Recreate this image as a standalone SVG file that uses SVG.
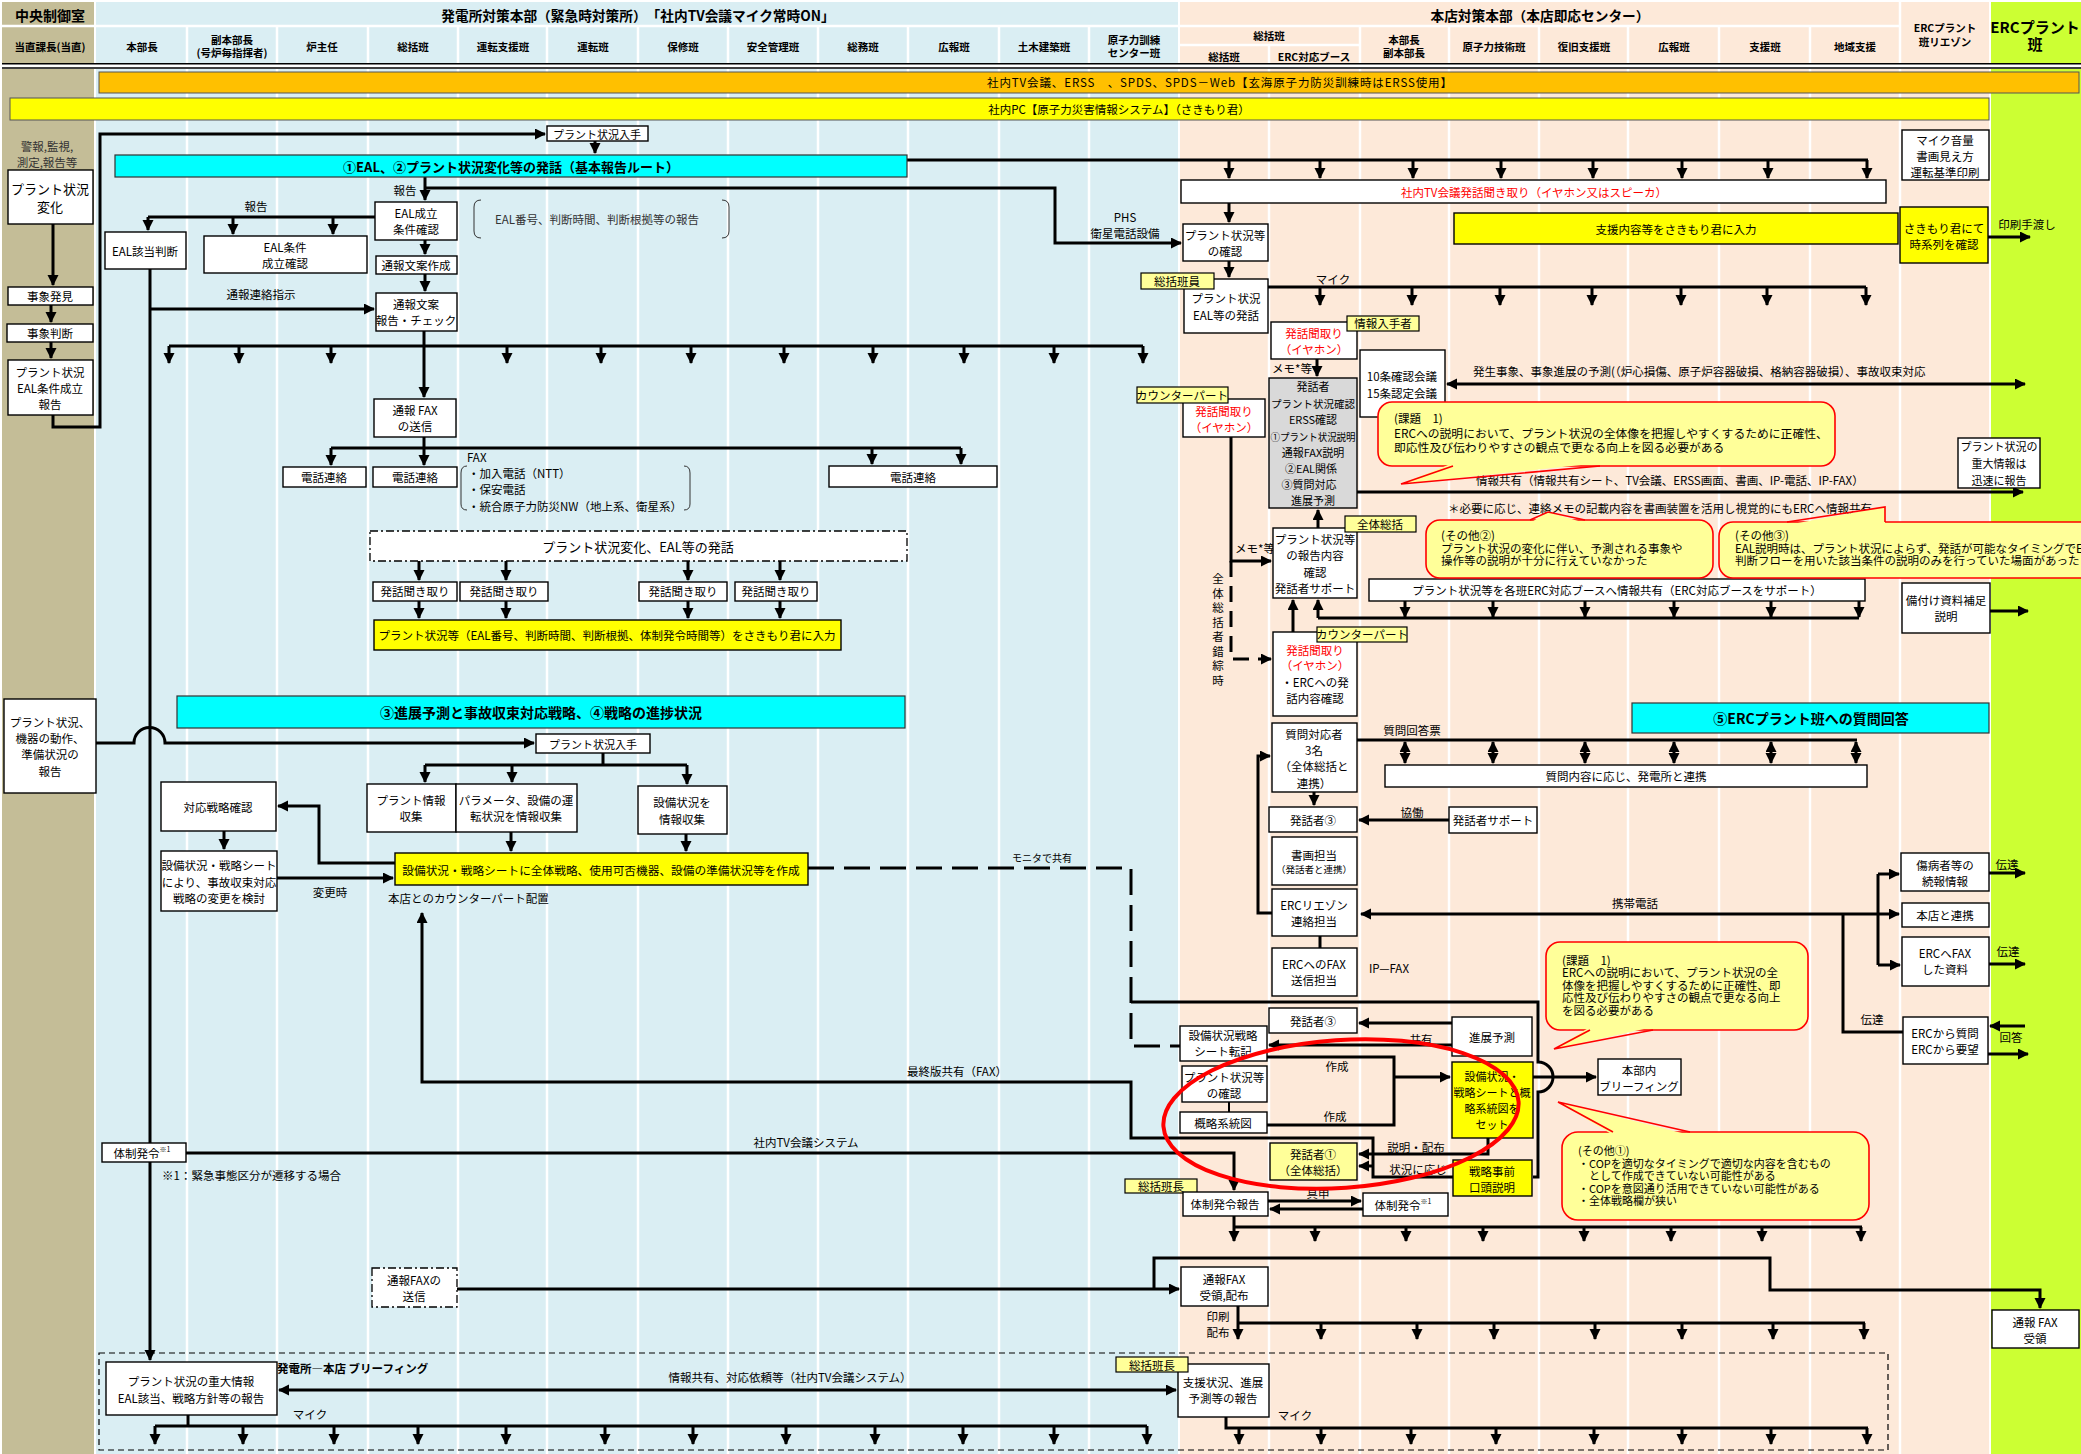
<svg xmlns="http://www.w3.org/2000/svg" width="2081" height="1454" viewBox="0 0 2081 1454">
<defs>
<marker id="ah" markerUnits="userSpaceOnUse" markerWidth="12" markerHeight="12" refX="10" refY="5.5" orient="auto-start-reverse"><path d="M0,0 L11,5.5 L0,11 z" fill="#000"/></marker>
</defs>
<style>
text{font-family:"Noto Sans CJK JP","Noto Sans CJK SC",sans-serif;font-size:11.5px;fill:#000;text-anchor:middle;dominant-baseline:central}
.s{text-anchor:start}
.hd{font-weight:bold;font-size:10.5px}
.bd{font-weight:bold}
.rd{fill:#f00}
.gy{fill:#333}
.b{fill:#fff;stroke:#000;stroke-width:1.4}
.y{fill:#ff0;stroke:#000;stroke-width:1.4}
.py{fill:#ffff99;stroke:#000;stroke-width:1.4}
.tg{fill:#ffff99;stroke:#000;stroke-width:1.2}
.gr{fill:#d9d9d9;stroke:#000;stroke-width:1.4}
.cy{fill:#0ff;stroke:#333;stroke-width:1.2}
.l{fill:none;stroke:#000;stroke-width:3}
.a{marker-end:url(#ah)}
.a2{marker-start:url(#ah);marker-end:url(#ah)}
.dl{stroke-dasharray:26 10}
.co{fill:#ffff99;stroke:#f00;stroke-width:1.6}
.cf{fill:#ffff99;stroke:none}
.ct{fill:none;stroke:#f00;stroke-width:1.6}
.dd{fill:#fff;stroke:#000;stroke-width:1.3;stroke-dasharray:8 3 2 3}
.br{fill:none;stroke:#333;stroke-width:1}
</style>
<g id="background">
<rect width="2081" height="1454" fill="#fff"/>
<rect x="2" y="2" width="92" height="1452" fill="#C4BD97"/>
<rect x="96" y="2" width="1082" height="1452" fill="#DAEEF3"/>
<rect x="1180" y="2" width="809" height="1452" fill="#FDE9D9"/>
<rect x="1991" y="2" width="90" height="1452" fill="#CCFF33"/>
<g stroke="#fff" stroke-width="2.5">
<path d="M0,26H1900M1180,45H1359"/>
<path d="M187,27V1454M277,27V1454M368,27V1454M458,27V1454M547,27V1454M638,27V1454M728,27V1454M818,27V1454M908,27V1454M999,27V1454M1089,27V1454M1269,45V1454M1360,27V1454M1449,27V1454M1539,27V1454M1628,27V1454M1719,27V1454M1810,27V1454M1900,2V1454"/>
</g>
<rect x="0" y="63" width="2081" height="6" fill="#fff"/>
<path d="M2,63.8H2081M2,68H2081" stroke="#000" stroke-width="1.4"/>
</g>
<g id="header">
<text x="50" y="15" class="bd" style="font-size:14px">中央制御室</text>
<text x="638" y="15" class="bd" style="font-size:13.7px">発電所対策本部（緊急時対策所）　「社内TV会議マイク常時ON」</text>
<text x="1540" y="15" class="bd" style="font-size:13.7px">本店対策本部（本店即応センター）</text>
<text x="50" y="46" class="hd">当直課長(当直)</text>
<text x="142" y="46" class="hd">本部長</text>
<text x="232" y="39" class="hd">副本部長</text>
<text x="232" y="52" class="hd">(号炉毎指揮者)</text>
<text x="322" y="46" class="hd">炉主任</text>
<text x="413" y="46" class="hd">総括班</text>
<text x="503" y="46" class="hd">運転支援班</text>
<text x="593" y="46" class="hd">運転班</text>
<text x="683" y="46" class="hd">保修班</text>
<text x="773" y="46" class="hd">安全管理班</text>
<text x="863" y="46" class="hd">総務班</text>
<text x="954" y="46" class="hd">広報班</text>
<text x="1044" y="46" class="hd">土木建築班</text>
<text x="1134" y="39" class="hd">原子力訓練</text>
<text x="1134" y="52" class="hd">センター班</text>
<text x="1269" y="35" class="hd">総括班</text>
<text x="1224" y="56" class="hd">総括班</text>
<text x="1314" y="56" class="hd">ERC対応ブース</text>
<text x="1404" y="39" class="hd">本部長</text>
<text x="1404" y="52" class="hd">副本部長</text>
<text x="1494" y="46" class="hd">原子力技術班</text>
<text x="1584" y="46" class="hd">復旧支援班</text>
<text x="1674" y="46" class="hd">広報班</text>
<text x="1765" y="46" class="hd">支援班</text>
<text x="1855" y="46" class="hd">地域支援</text>
<text x="1945" y="27" class="hd">ERCプラント</text>
<text x="1945" y="41" class="hd">班リエゾン</text>
<text x="2035" y="26" class="bd" style="font-size:15px">ERCプラント</text>
<text x="2035" y="43" class="bd" style="font-size:15px">班</text>
</g>
<g id="bars">
<rect x="99" y="72" width="1980" height="21" fill="#FFC000" stroke="#555" stroke-width="1"/>
<text x="987" y="82" class="s" textLength="465" lengthAdjust="spacing">社内TV会議、ERSS　、SPDS、SPDS－Web【玄海原子力防災訓練時はERSS使用】</text>
<rect x="10" y="98" width="1979" height="22" fill="#FF0" stroke="#555" stroke-width="1"/>
<text x="1119" y="109">社内PC【原子力災害情報システム】（さきもり君）</text>
</g>
<g id="connectors">
<path class="l a" d="M53,224V285"/>
<path class="l a" d="M51,305V322"/>
<path class="l a" d="M51,342V358"/>
<path class="l a" d="M53,415V427H100V134H545"/>
<path class="l a" d="M595,141V153"/>
<path class="l" d="M907,160H1868"/>
<path class="l a" d="M1229,160V178"/><path class="l a" d="M1320,160V178"/><path class="l a" d="M1413,160V178"/><path class="l a" d="M1501,160V178"/><path class="l a" d="M1593,160V178"/><path class="l a" d="M1682,160V178"/><path class="l a" d="M1768,160V178"/><path class="l a" d="M1867,160V178"/>
<path class="l a" d="M425,177V200"/>
<path class="l a" d="M425,188H1055V243H1181"/>
<path class="l" d="M375,217H148"/>
<path class="l a" d="M148,217V230"/><path class="l a" d="M233,217V234"/><path class="l a" d="M333,217V234"/>
<path class="l a" d="M425,240V254"/>
<path class="l a" d="M425,274V291"/>
<path class="l a" d="M150,269V1360"/>
<path class="l a" d="M150,309H374"/>
<path class="l a" d="M424,331V397"/>
<path class="l" d="M169,346H1143"/>
<path class="l a" d="M169,346V363"/><path class="l a" d="M239,346V363"/><path class="l a" d="M331,346V363"/><path class="l a" d="M507,346V363"/><path class="l a" d="M601,346V363"/><path class="l a" d="M691,346V363"/><path class="l a" d="M784,346V363"/><path class="l a" d="M873,346V363"/><path class="l a" d="M964,346V363"/><path class="l a" d="M1054,346V363"/><path class="l a" d="M1143,346V363"/>
<path class="l" d="M424,437V448M331,448H961"/>
<path class="l a" d="M331,448V465"/><path class="l a" d="M424,448V465"/><path class="l a" d="M872,448V464"/><path class="l a" d="M961,448V464"/>
<path class="l a" d="M419,561V580"/><path class="l a" d="M506,561V580"/><path class="l a" d="M688,561V580"/><path class="l a" d="M780,561V580"/>
<path class="l a" d="M419,601V618"/><path class="l a" d="M506,601V618"/><path class="l a" d="M688,601V618"/><path class="l a" d="M780,601V618"/>
<path class="l a" d="M96,743H134A15.5,15.5 0 0 1 165,743H534"/>
<path class="l" d="M603,753V765M425,765H687"/>
<path class="l a" d="M425,765V782"/><path class="l a" d="M512,765V782"/><path class="l a" d="M687,765V784"/>
<path class="l a" d="M511,832V851"/><path class="l a" d="M686,834V851"/>
<path class="l a" d="M395,863H319V806H278"/>
<path class="l a" d="M224,831V849"/>
<path class="l a" d="M277,878H393"/>
<path class="l dl" d="M808,868H1131V1046H1180"/>
<path class="l a" d="M1453,1177H1373V1138H1131V1082H422V913"/>
<path class="l a" d="M1373,1166H1359"/>
<path class="l a" d="M186,1153H1234V1190"/>
<path class="l a" d="M457,1289H1179"/>
<path class="l a" d="M1154,1289V1258H1770V1290H2040V1308"/>
<path class="l a2" d="M279,1390H1176"/>
<path class="l" d="M188,1415V1426M155,1426H1147"/>
<path class="l a" d="M155,1426V1444"/><path class="l a" d="M243,1426V1444"/><path class="l a" d="M334,1426V1444"/><path class="l a" d="M418,1426V1444"/><path class="l a" d="M506,1426V1444"/><path class="l a" d="M605,1426V1444"/><path class="l a" d="M693,1426V1444"/><path class="l a" d="M786,1426V1444"/><path class="l a" d="M875,1426V1444"/><path class="l a" d="M963,1426V1444"/><path class="l a" d="M1054,1426V1444"/><path class="l a" d="M1147,1426V1444"/>
<path class="l" d="M1226,1417V1428H1868"/>
<path class="l a" d="M1239,1428V1444"/><path class="l a" d="M1321,1428V1444"/><path class="l a" d="M1411,1428V1444"/><path class="l a" d="M1496,1428V1444"/><path class="l a" d="M1594,1428V1444"/><path class="l a" d="M1682,1428V1444"/><path class="l a" d="M1771,1428V1444"/><path class="l a" d="M1867,1428V1444"/>
<path class="l a" d="M1238,1306V1339"/>
<path class="l" d="M1238,1323H1865"/>
<path class="l a" d="M1321,1323V1339"/><path class="l a" d="M1417,1323V1339"/><path class="l a" d="M1494,1323V1339"/><path class="l a" d="M1595,1323V1339"/><path class="l a" d="M1682,1323V1339"/><path class="l a" d="M1773,1323V1339"/><path class="l a" d="M1864,1323V1339"/>
<path class="l a" d="M1234,1216V1241"/>
<path class="l" d="M1234,1227H1862"/>
<path class="l a" d="M1315,1227V1241"/><path class="l a" d="M1406,1227V1241"/><path class="l a" d="M1483,1227V1241"/><path class="l a" d="M1584,1227V1241"/><path class="l a" d="M1671,1227V1241"/><path class="l a" d="M1762,1227V1241"/><path class="l a" d="M1861,1227V1241"/>
<path class="l a" d="M1268,1201H1361"/>
<path class="l a" d="M1363,1209H1270"/>
<path class="l a" d="M1488,1138V1154H1359"/>
<path class="l" d="M1267,1057H1394V1125H1267"/>
<path class="l a" d="M1394,1077H1450"/>
<path class="l a" d="M1452,1045H1269"/>
<path class="l a" d="M1452,1023H1359"/>
<path class="l" d="M1131,1002H1538V1062A15,15 0 0 1 1538,1092V1177H1533"/>
<path class="l a" d="M1533,1077H1596"/>
<path class="l a" d="M1449,820H1359"/>
<path class="l a" d="M1314,792V805"/>
<path class="l a" d="M1272,913H1258V756H1270"/>
<path class="l a2" d="M1361,914H1899"/>
<path class="l" d="M1843,914V1032H1903"/>
<path class="l" d="M1878,874V965"/>
<path class="l a" d="M1878,874H1899"/>
<path class="l a" d="M1878,965H1900"/>
<path class="l a" d="M1989,873H2025"/>
<path class="l a" d="M1989,964H2025"/>
<path class="l a" d="M2025,1026H1990"/>
<path class="l a" d="M1988,1054H2028"/>
<path class="l a" d="M1990,611H2028"/>
<path class="l a" d="M1988,237H2030"/>
<path class="l a" d="M1357,492H2023"/>
<path class="l a2" d="M1447,384H2025"/>
<path class="l" d="M1357,740H1857"/>
<path class="l a2" d="M1405,742V763"/><path class="l a2" d="M1493,742V763"/><path class="l a2" d="M1585,742V763"/><path class="l a2" d="M1674,742V763"/><path class="l a2" d="M1771,742V763"/><path class="l a2" d="M1856,742V763"/>
<path class="l" d="M1318,618H1859"/>
<path class="l a" d="M1405,601V617"/><path class="l a" d="M1493,601V617"/><path class="l a" d="M1585,601V617"/><path class="l a" d="M1674,601V617"/><path class="l a" d="M1771,601V617"/><path class="l a" d="M1859,601V617"/>
<path class="l a" d="M1318,618V600"/>
<path class="l a" d="M1293,632V600"/>
<path class="l a" d="M1318,528V510"/>
<path class="l a" d="M1231,437V561H1271"/>
<path class="l a" d="M1231,561V659H1271" style="stroke-dasharray:16 9"/>
<path class="l a" d="M1317,359V376"/>
<path class="l a" d="M1229,203V222"/>
<path class="l a" d="M1229,261V277"/>
<path class="l" d="M1268,287H1866"/>
<path class="l a" d="M1320,287V305"/><path class="l a" d="M1412,287V305"/><path class="l a" d="M1500,287V305"/><path class="l a" d="M1592,287V305"/><path class="l a" d="M1681,287V305"/><path class="l a" d="M1767,287V305"/><path class="l a" d="M1866,287V305"/>
<path class="l" d="M1320,936V948"/>
<path class="l" d="M1229,1102V1112" style="stroke-width:2"/>
</g>
<g id="labels">
<text x="47" y="146" class="gy">警報,監視,</text>
<text x="47" y="162" class="gy">測定,報告等</text>
<text x="405" y="190">報告</text>
<text x="256" y="206">報告</text>
<text x="261" y="294">通報連絡指示</text>
<path class="br" d="M481,200Q474,200 474,207V231Q474,238 481,238"/>
<path class="br" d="M722,200Q729,200 729,207V231Q729,238 722,238"/>
<text x="495" y="219" class="s gy">EAL番号、判断時間、判断根拠等の報告</text>
<text x="467" y="457" class="s">FAX</text>
<text x="468" y="473" class="s">・加入電話（NTT）</text>
<text x="468" y="489" class="s">・保安電話</text>
<text x="468" y="506" class="s">・統合原子力防災NW（地上系、衛星系）</text>
<path class="br" d="M467,466Q461,466 461,473V504Q461,510 467,510"/>
<path class="br" d="M684,466Q690,466 690,473V504Q690,510 684,510"/>
<text x="330" y="892">変更時</text>
<text x="388" y="898" class="s">本店とのカウンターパート配置</text>
<text x="1042" y="857" style="font-size:10px">モニタで共有</text>
<text x="957" y="1071">最終版共有（FAX）</text>
<text x="806" y="1142">社内TV会議システム</text>
<text x="162" y="1175" class="s">※1：緊急事態区分が遷移する場合</text>
<text x="277" y="1368" class="s bd">発電所―本店  ブリーフィング</text>
<text x="790" y="1377">情報共有、対応依頼等（社内TV会議システム）</text>
<text x="310" y="1414">マイク</text>
<text x="1295" y="1415">マイク</text>
<text x="1125" y="217">PHS</text>
<text x="1125" y="233">衛星電話設備</text>
<text x="1333" y="279">マイク</text>
<text x="1292" y="368">メモ*等</text>
<text x="1473" y="371" class="s">発生事象、事象進展の予測(（炉心損傷、原子炉容器破損、格納容器破損）、事故収束対応</text>
<text x="1476" y="480" class="s">情報共有（情報共有シート、TV会議、ERSS画面、書画、IP-電話、IP-FAX）</text>
<text x="1448" y="508" class="s">＊必要に応じ、連絡メモの記載内容を書画装置を活用し視覚的にもERCへ情報共有</text>
<text x="1255" y="548">メモ*等</text>
<g>
<text x="1218" y="578">全</text><text x="1218" y="592.5">体</text><text x="1218" y="607">総</text><text x="1218" y="621.5">括</text><text x="1218" y="636">者</text><text x="1218" y="650.5">錯</text><text x="1218" y="665">綜</text><text x="1218" y="679.5">時</text>
</g>
<text x="1412" y="730">質問回答票</text>
<text x="1412" y="812">協働</text>
<text x="1635" y="903">携帯電話</text>
<text x="2007" y="864">伝達</text>
<text x="2008" y="951">伝達</text>
<text x="1872" y="1019">伝達</text>
<text x="2011" y="1037">回答</text>
<text x="1389" y="968">IP—FAX</text>
<text x="1421" y="1039">共有</text>
<text x="1337" y="1066">作成</text>
<text x="1335" y="1116">作成</text>
<text x="1416" y="1147">説明・配布</text>
<text x="1418" y="1169">状況に応じ</text>
<text x="1318" y="1193">具申</text>
<text x="1218" y="1316">印刷</text>
<text x="1218" y="1332">配布</text>
<text x="2027" y="224">印刷手渡し</text>
</g>
<g id="n-plant-change"><rect class="b" x="8" y="170" width="85" height="54"/><text x="50" y="188" style="font-size:13px">プラント状況</text><text x="50" y="206" style="font-size:13px">変化</text></g>
<g id="n-jisho-hakken"><rect class="b" x="8" y="287" width="85" height="18"/><text x="50" y="296">事象発見</text></g>
<g id="n-jisho-handan"><rect class="b" x="7" y="324" width="86" height="18"/><text x="50" y="333">事象判断</text></g>
<g id="n-eal-report"><rect class="b" x="8" y="360" width="85" height="55"/><text x="50" y="372">プラント状況</text><text x="50" y="388">EAL条件成立</text><text x="50" y="404">報告</text></g>
<g id="n-plant-nyushu1"><rect class="b" x="547" y="126" width="101" height="15"/><text x="597" y="134" style="font-size:11px">プラント状況入手</text></g>
<g id="n-cyan1"><rect class="cy" x="115" y="155" width="792" height="22"/><text x="511" y="166" class="bd" style="font-size:13px">①EAL、②プラント状況変化等の発話（基本報告ルート）</text></g>
<g id="n-eal-seiritsu"><rect class="b" x="375" y="202" width="82" height="38"/><text x="416" y="213">EAL成立</text><text x="416" y="229">条件確認</text></g>
<g id="n-eal-gaitou"><rect class="b" x="105" y="232" width="81" height="37"/><text x="145" y="251">EAL該当判断</text></g>
<g id="n-eal-joken"><rect class="b" x="204" y="236" width="163" height="37"/><text x="285" y="247">EAL条件</text><text x="285" y="263">成立確認</text></g>
<g id="n-bunan"><rect class="b" x="376" y="256" width="81" height="18"/><text x="416" y="265">通報文案作成</text></g>
<g id="n-bunan-check"><rect class="b" x="376" y="293" width="81" height="38"/><text x="416" y="304">通報文案</text><text x="416" y="320">報告・チェック</text></g>
<g id="n-fax-send"><rect class="b" x="374" y="399" width="82" height="38"/><text x="415" y="410">通報 FAX</text><text x="415" y="426">の送信</text></g>
<g id="n-tel1"><rect class="b" x="283" y="467" width="83" height="20"/><text x="324" y="477">電話連絡</text></g>
<g id="n-tel2"><rect class="b" x="373" y="467" width="84" height="20"/><text x="415" y="477">電話連絡</text></g>
<g id="n-tel3"><rect class="b" x="829" y="466" width="168" height="21"/><text x="913" y="477">電話連絡</text></g>
<g id="n-hatsuwa"><rect class="dd" x="370" y="531" width="537" height="30"/><text x="638" y="546" style="font-size:13px">プラント状況変化、EAL等の発話</text></g>
<g id="n-kiki1"><rect class="b" x="373" y="582" width="84" height="19"/><text x="415" y="591">発話聞き取り</text></g>
<g id="n-kiki2"><rect class="b" x="460" y="582" width="88" height="19"/><text x="504" y="591">発話聞き取り</text></g>
<g id="n-kiki3"><rect class="b" x="639" y="582" width="88" height="19"/><text x="683" y="591">発話聞き取り</text></g>
<g id="n-kiki4"><rect class="b" x="735" y="582" width="82" height="19"/><text x="776" y="591">発話聞き取り</text></g>
<g id="n-sakimori1"><rect class="y" x="374" y="620" width="467" height="30"/><text x="607" y="635">プラント状況等（EAL番号、判断時間、判断根拠、体制発令時間等）をさきもり君に入力</text></g>
<g id="n-cyan2"><rect class="cy" x="177" y="696" width="728" height="32"/><text x="541" y="712" class="bd" style="font-size:14px">③進展予測と事故収束対応戦略、④戦略の進捗状況</text></g>
<g id="n-kiki-dousa"><rect class="b" x="4" y="699" width="92" height="94"/><text x="50" y="722">プラント状況、</text><text x="50" y="738">機器の動作、</text><text x="50" y="754">準備状況の</text><text x="50" y="771">報告</text></g>
<g id="n-plant-nyushu2"><rect class="b" x="536" y="734" width="114" height="19"/><text x="593" y="744" style="font-size:11px">プラント状況入手</text></g>
<g id="n-plant-joho"><rect class="b" x="367" y="784" width="89" height="48"/><text x="411" y="800">プラント情報</text><text x="411" y="816">収集</text></g>
<g id="n-parameter"><rect class="b" x="456" y="784" width="121" height="48"/><text x="516" y="800">パラメータ、設備の運</text><text x="516" y="816">転状況を情報収集</text></g>
<g id="n-setsubi-joho"><rect class="b" x="638" y="786" width="89" height="48"/><text x="682" y="802">設備状況を</text><text x="682" y="819">情報収集</text></g>
<g id="n-sheet1"><rect class="y" x="395" y="853" width="413" height="32"/><text x="601" y="869" style="font-size:11.7px">設備状況・戦略シートに全体戦略、使用可否機器、設備の準備状況等を作成</text></g>
<g id="n-taio-senryaku"><rect class="b" x="161" y="782" width="115" height="49"/><text x="218" y="807">対応戦略確認</text></g>
<g id="n-henko"><rect class="b" x="161" y="851" width="116" height="60"/><text x="219" y="865">設備状況・戦略シート</text><text x="219" y="882">により、事故収束対応</text><text x="219" y="898">戦略の変更を検討</text></g>
<g id="n-taisei1"><rect class="b" x="102" y="1143" width="84" height="19"/><text x="142" y="1153">体制発令<tspan style="font-size:7px" dy="-4">※1</tspan></text></g>
<g id="n-fax-send2"><rect class="dd" x="372" y="1268" width="85" height="39"/><text x="414" y="1280">通報FAXの</text><text x="414" y="1296">送信</text></g>
<g id="n-briefing-area"><rect x="99" y="1353" width="1789" height="97" fill="none" stroke="#000" stroke-width="1.2" stroke-dasharray="6 4"/></g>
<g id="n-briefing1"><rect class="b" x="106" y="1362" width="171" height="53"/><text x="191" y="1381">プラント状況の重大情報</text><text x="191" y="1398">EAL該当、戦略方針等の報告</text></g>
<g id="n-tv-kiki"><rect class="b" x="1181" y="180" width="705" height="23"/><text x="1534" y="192" class="rd">社内TV会議発話聞き取り（イヤホン又はスピーカ）</text></g>
<g id="n-kakunin1"><rect class="b" x="1183" y="224" width="85" height="37"/><text x="1225" y="235">プラント状況等</text><text x="1225" y="251">の確認</text></g>
<g id="n-eal-hatsuwa"><rect class="b" x="1184" y="279" width="84" height="54"/><text x="1226" y="298">プラント状況</text><text x="1226" y="315">EAL等の発話</text></g>
<g id="n-tag-sokatsu"><rect class="tg" x="1141" y="273" width="73" height="16"/><text x="1177" y="281">総括班員</text></g>
<g id="n-kikitori1"><rect class="b" x="1271" y="322" width="86" height="37"/><text x="1314" y="333" class="rd">発話聞取り</text><text x="1314" y="349" class="rd">（イヤホン）</text></g>
<g id="n-tag-joho"><rect class="tg" x="1347" y="316" width="72" height="15"/><text x="1383" y="323">情報入手者</text></g>
<g id="n-gray"><rect class="gr" x="1269" y="378" width="88" height="130"/>
<text x="1313" y="386" style="font-size:11px">発話者</text>
<text x="1313" y="403" style="font-size:10.5px">プラント状況確認</text>
<text x="1313" y="419" style="font-size:11px">ERSS確認</text>
<text x="1313" y="436" style="font-size:10.5px" textLength="85" lengthAdjust="spacingAndGlyphs">①プラント状況説明</text>
<text x="1313" y="452" style="font-size:11px">通報FAX説明</text>
<text x="1311" y="468" style="font-size:11px">②EAL関係</text>
<text x="1309" y="484" style="font-size:11px">③質問対応</text>
<text x="1313" y="500" style="font-size:11px">進展予測</text></g>
<g id="n-jojo"><rect class="b" x="1360" y="350" width="85" height="67"/><text x="1402" y="376">10条確認会議</text><text x="1402" y="393">15条認定会議</text></g>
<g id="n-kikitori2"><rect class="b" x="1183" y="399" width="82" height="38"/><text x="1224" y="411" class="rd">発話聞取り</text><text x="1224" y="427" class="rd">（イヤホン）</text></g>
<g id="n-tag-cp1"><rect class="tg" x="1137" y="387" width="91" height="16"/><text x="1182" y="395">カウンターパート</text></g>
<g id="n-jyudai"><rect class="b" x="1958" y="438" width="82" height="50"/><text x="1999" y="446" style="font-size:11px">プラント状況の</text><text x="1999" y="463" style="font-size:11px">重大情報は</text><text x="1999" y="480" style="font-size:11px">迅速に報告</text></g>
<g id="n-hokoku-naiyo"><rect class="b" x="1273" y="528" width="84" height="70"/><text x="1315" y="539">プラント状況等</text><text x="1315" y="555">の報告内容</text><text x="1315" y="572">確認</text><text x="1315" y="588">発話者サポート</text></g>
<g id="n-tag-zentai"><rect class="tg" x="1345" y="516" width="71" height="16"/><text x="1380" y="524">全体総括</text></g>
<g id="n-erc-share"><rect class="b" x="1369" y="579" width="496" height="22"/><text x="1617" y="590">プラント状況等を各班ERC対応ブースへ情報共有（ERC対応ブースをサポート）</text></g>
<g id="n-kikitori3"><rect class="b" x="1273" y="632" width="84" height="84"/><text x="1315" y="650" class="rd">発話聞取り</text><text x="1315" y="665" class="rd">（イヤホン）</text><text x="1315" y="682">・ERCへの発</text><text x="1315" y="698">話内容確認</text></g>
<g id="n-tag-cp2"><rect class="tg" x="1317" y="627" width="90" height="15"/><text x="1362" y="634">カウンターパート</text></g>
<g id="n-shitsumon"><rect class="b" x="1272" y="723" width="85" height="69"/><text x="1314" y="734">質問対応者</text><text x="1314" y="750">3名</text><text x="1314" y="766">（全体総括と</text><text x="1314" y="783">連携）</text></g>
<g id="n-shitsumon-naiyo"><rect class="b" x="1385" y="765" width="482" height="22"/><text x="1626" y="776">質問内容に応じ、発電所と連携</text></g>
<g id="n-cyan3"><rect class="cy" x="1632" y="703" width="357" height="30"/><text x="1811" y="718" class="bd" style="font-size:14px">⑤ERCプラント班への質問回答</text></g>
<g id="n-hatsuwasha3a"><rect class="b" x="1269" y="807" width="88" height="25"/><text x="1313" y="820">発話者③</text></g>
<g id="n-hatsuwa-support"><rect class="b" x="1449" y="807" width="88" height="26"/><text x="1493" y="820">発話者サポート</text></g>
<g id="n-shoga"><rect class="b" x="1272" y="837" width="85" height="48"/><text x="1314" y="855">書画担当</text><text x="1314" y="869" style="font-size:9.5px">（発話者と連携）</text></g>
<g id="n-liaison"><rect class="b" x="1272" y="889" width="85" height="47"/><text x="1314" y="905">ERCリエゾン</text><text x="1314" y="921">連絡担当</text></g>
<g id="n-erc-fax"><rect class="b" x="1272" y="948" width="85" height="48"/><text x="1314" y="964">ERCへのFAX</text><text x="1314" y="980">送信担当</text></g>
<g id="n-shobyo"><rect class="b" x="1901" y="853" width="88" height="38"/><text x="1945" y="865">傷病者等の</text><text x="1945" y="881">続報情報</text></g>
<g id="n-honten-renkei"><rect class="b" x="1902" y="903" width="87" height="24"/><text x="1945" y="915">本店と連携</text></g>
<g id="n-erc-fax-shiryo"><rect class="b" x="1902" y="937" width="87" height="49"/><text x="1945" y="953">ERCへFAX</text><text x="1945" y="969">した資料</text></g>
<g id="n-erc-shitsumon"><rect class="b" x="1903" y="1017" width="85" height="47"/><text x="1945" y="1033">ERCから質問</text><text x="1945" y="1049">ERCから要望</text></g>
<g id="n-hatsuwasha3b"><rect class="b" x="1269" y="1008" width="88" height="25"/><text x="1313" y="1021">発話者③</text></g>
<g id="n-shinten"><rect class="b" x="1452" y="1017" width="80" height="39"/><text x="1492" y="1037">進展予測</text></g>
<g id="n-tenki"><rect class="b" x="1180" y="1026" width="87" height="35"/><text x="1223" y="1035">設備状況戦略</text><text x="1223" y="1051">シート転記</text></g>
<g id="n-kakunin2"><rect class="b" x="1182" y="1066" width="85" height="36"/><text x="1224" y="1077">プラント状況等</text><text x="1224" y="1093">の確認</text></g>
<g id="n-gairyaku"><rect class="b" x="1180" y="1112" width="87" height="21"/><text x="1223" y="1123">概略系統図</text></g>
<g id="n-set"><rect class="y" x="1452" y="1062" width="81" height="76"/><text x="1492" y="1076" style="font-size:11px">設備状況・</text><text x="1492" y="1092" style="font-size:11px">戦略シートと概</text><text x="1492" y="1108" style="font-size:11px">略系統図を</text><text x="1492" y="1124" style="font-size:11px">セット</text></g>
<g id="n-hatsuwasha1"><rect class="py" x="1270" y="1143" width="87" height="37"/><text x="1313" y="1154">発話者①</text><text x="1313" y="1170">（全体総括）</text></g>
<g id="n-jizen"><rect class="y" x="1453" y="1160" width="79" height="36"/><text x="1492" y="1171">戦略事前</text><text x="1492" y="1187">口頭説明</text></g>
<g id="n-honbu-brief"><rect class="b" x="1598" y="1059" width="83" height="36"/><text x="1639" y="1070">本部内</text><text x="1639" y="1086">ブリーフィング</text></g>
<g id="n-tag-hancho1"><rect class="tg" x="1125" y="1179" width="72" height="14"/><text x="1161" y="1186">総括班長</text></g>
<g id="n-taisei-hokoku"><rect class="b" x="1183" y="1192" width="85" height="24"/><text x="1225" y="1204">体制発令報告</text></g>
<g id="n-taisei2"><rect class="b" x="1363" y="1193" width="85" height="23"/><text x="1403" y="1205">体制発令<tspan style="font-size:7px" dy="-4">※1</tspan></text></g>
<g id="n-fax-jyuryo"><rect class="b" x="1181" y="1267" width="87" height="39"/><text x="1224" y="1279">通報FAX</text><text x="1224" y="1295">受領,配布</text></g>
<g id="n-fax-jyuryo-erc"><rect class="b" x="1992" y="1310" width="87" height="38"/><text x="2035" y="1322">通報 FAX</text><text x="2035" y="1338">受領</text></g>
<g id="n-shien"><rect class="b" x="1178" y="1364" width="91" height="53"/><text x="1223" y="1382">支援状況、進展</text><text x="1223" y="1398">予測等の報告</text></g>
<g id="n-tag-hancho2"><rect class="tg" x="1116" y="1357" width="72" height="15"/><text x="1152" y="1365">総括班長</text></g>
<g id="n-mic"><rect class="b" x="1902" y="130" width="87" height="50"/><text x="1945" y="140">マイク音量</text><text x="1945" y="156">書画見え方</text><text x="1945" y="172">運転基準印刷</text></g>
<g id="n-shien-sakimori"><rect class="y" x="1454" y="213" width="444" height="31"/><text x="1676" y="229">支援内容等をさきもり君に入力</text></g>
<g id="n-sakimori-jikei"><rect class="y" x="1900" y="207" width="88" height="56"/><text x="1944" y="228">さきもり君にて</text><text x="1944" y="244">時系列を確認</text></g>
<g id="n-sonae"><rect class="b" x="1902" y="583" width="88" height="50"/><text x="1946" y="600">備付け資料補足</text><text x="1946" y="616">説明</text></g>
<g id="callout-kadai1a">
<rect class="co" x="1378" y="402" width="457" height="64" rx="14"/>
<path class="cf" d="M1453,463L1401,484L1600,463z"/>
<path class="ct" d="M1453,466L1401,484L1600,466"/>
<text x="1394" y="418" class="s">(課題　1)</text>
<text x="1394" y="432" class="s" style="font-size:11.8px">ERCへの説明において、プラント状況の全体像を把握しやすくするために正確性、</text>
<text x="1394" y="446" class="s" style="font-size:11.8px">即応性及び伝わりやすさの観点で更なる向上を図る必要がある</text>
</g>
<g id="callout-sonota2">
<rect class="co" x="1426" y="520" width="287" height="58" rx="14"/>
<path class="cf" d="M1530,523L1548,512L1585,523z"/>
<path class="ct" d="M1530,520L1548,512L1585,520"/>
<text x="1441" y="535" class="s">(その他②)</text>
<text x="1441" y="548" class="s">プラント状況の変化に伴い、予測される事象や</text>
<text x="1441" y="560" class="s">操作等の説明が十分に行えていなかった</text>
</g>
<g id="callout-sonota3">
<rect class="co" x="1719" y="522" width="380" height="56" rx="14"/>
<path class="cf" d="M1787,525L1885,507L1885,525z"/>
<path class="ct" d="M1787,522L1885,507L1885,522"/>
<text x="1735" y="535" class="s">(その他③)</text>
<text x="1735" y="548" class="s">EAL説明時は、プラント状況によらず、発話が可能なタイミングでE</text>
<text x="1735" y="560" class="s">判断フローを用いた該当条件の説明のみを行っていた場面があった</text>
</g>
<g id="callout-kadai1b">
<rect class="co" x="1546" y="942" width="262" height="88" rx="14"/>
<path class="cf" d="M1590,1027L1554,1049L1653,1027z"/>
<path class="ct" d="M1590,1030L1554,1049L1653,1030"/>
<text x="1562" y="960" class="s">(課題　1)</text>
<text x="1562" y="972" class="s">ERCへの説明において、プラント状況の全</text>
<text x="1562" y="984.5" class="s">体像を把握しやすくするために正確性、即</text>
<text x="1562" y="997" class="s">応性及び伝わりやすさの観点で更なる向上</text>
<text x="1562" y="1009.5" class="s">を図る必要がある</text>
</g>
<g id="callout-sonota1">
<rect class="co" x="1562" y="1132" width="307" height="88" rx="16"/>
<path class="cf" d="M1613,1135L1558,1102L1690,1135z"/>
<path class="ct" d="M1613,1132L1558,1102L1690,1132"/>
<text x="1578" y="1150" class="s" style="font-size:11px">(その他①)</text>
<text x="1578" y="1162.5" class="s" style="font-size:11px">・COPを適切なタイミングで適切な内容を含むもの</text>
<text x="1578" y="1175" class="s" style="font-size:11px">　として作成できていない可能性がある</text>
<text x="1578" y="1187.5" class="s" style="font-size:11px">・COPを意図通り活用できていない可能性がある</text>
<text x="1578" y="1200" class="s" style="font-size:11px">・全体戦略欄が狭い</text>
</g>
<g id="highlight">
<ellipse cx="1341" cy="1114" rx="178" ry="74" transform="rotate(-4 1341 1114)" fill="none" stroke="#f00" stroke-width="4"/>
</g>
</svg>
